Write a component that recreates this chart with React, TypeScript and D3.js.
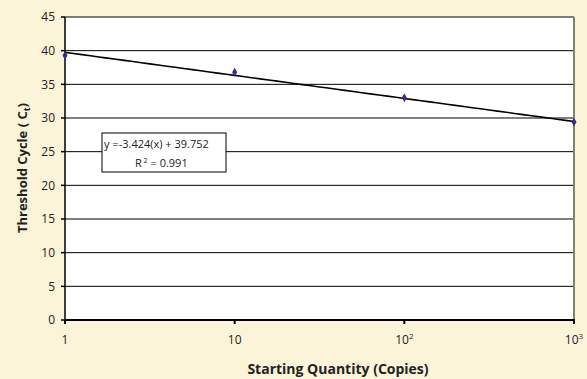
import React from "react";
import * as d3 from "d3";

const quantities = [1, 10, 100, 1000];
const thresholdCycles = [39.3, 36.8, 33.0, 29.4];
const slope = -3.424;
const intercept = 39.752;
const rSquared = 0.991;
const yTicks = [0, 5, 10, 15, 20, 25, 30, 35, 40, 45];
const xTickValues = [1, 10, 100, 1000];
const xTickBases = ["1", "10", "10", "10"];
const xTickExps = ["", "", "2", "3"];

const W = 587;
const H = 379;
const left = 65;
const right = 574;
const top = 17;
const bottom = 320;
const font = "'Open Sans', 'Noto Sans', sans-serif";

export default function App() {
  const x = d3.scaleLog().domain([1, 1000]).range([left, right]);
  const y = d3.scaleLinear().domain([0, 45]).range([bottom, top]);
  const trend = d3
    .line<number>()
    .x((d) => x(d))
    .y((d) => y(slope * Math.log10(d) + intercept));
  const diamond = d3.symbol().type(d3.symbolDiamond).size(22)();

  return (
    <svg
      width={W}
      height={H}
      style={{ position: "absolute", left: 0, top: 0 }}
      fontFamily={font}
    >
      <rect x={0} y={0} width={W} height={H} fill="#FCF4D8" />
      <rect x={left} y={top} width={right - left} height={bottom - top} fill="#ffffff" />
      {yTicks.map((t) => (
        <g key={t}>
          {t > 0 && (
            <line x1={left} x2={right} y1={y(t)} y2={y(t)} stroke="#000" strokeWidth={1} />
          )}
          <line x1={left - 4} x2={left} y1={y(t)} y2={y(t)} stroke="#000" strokeWidth={1.5} />
          <text
            x={left - 10}
            y={y(t)}
            dy="0.35em"
            textAnchor="end"
            fontSize={12}
            fill="#222"
          >
            {t}
          </text>
        </g>
      ))}
      <line x1={right} x2={right} y1={top} y2={bottom} stroke="#808080" strokeWidth={2} />
      <line x1={left} x2={left} y1={top} y2={bottom + 1} stroke="#000" strokeWidth={1.5} />
      <line x1={left} x2={right + 1} y1={bottom} y2={bottom} stroke="#000" strokeWidth={2} />
      {xTickValues.map((t, i) => (
        <g key={t}>
          <line x1={x(t)} x2={x(t)} y1={bottom} y2={bottom + 4} stroke="#000" strokeWidth={2} />
          <text x={x(t)} y={bottom + 24} textAnchor="middle" fontSize={12} fill="#222">
            {xTickBases[i]}
            {xTickExps[i] && (
              <tspan dy={-5} fontSize={8}>
                {xTickExps[i]}
              </tspan>
            )}
          </text>
        </g>
      ))}
      <path d={trend(d3.range(0, 3.001, 0.05).map((e) => Math.pow(10, e))) || ""} fill="none" stroke="#000" strokeWidth={1.6} />
      {quantities.map((q, i) => (
        <path
          key={q}
          d={diamond || ""}
          transform={`translate(${x(q)},${y(thresholdCycles[i])})`}
          fill="#33308A"
        />
      ))}
      <rect x={102} y={133} width={124} height={39} fill="#fff" stroke="#000" strokeWidth={1} />
      <text x={104} y={148} fontSize={11} fill="#222">
        {`y =${slope}(x) + ${intercept}`}
      </text>
      <text x={135} y={167} fontSize={11} fill="#222">
        R
        <tspan dy={-4} fontSize={7}> 2</tspan>
        <tspan dy={4}>{` = ${rSquared}`}</tspan>
      </text>
      <text
        transform={`translate(27,168) rotate(-90)`}
        textAnchor="middle"
        fontSize={13}
        fontWeight="bold"
        fill="#222"
      >
        Threshold Cycle ( C
        <tspan dy={3} fontSize={9}>t</tspan>
        <tspan dy={-3}>)</tspan>
      </text>
      <text
        x={338}
        y={374}
        textAnchor="middle"
        fontSize={14}
        fontWeight="bold"
        fill="#222"
      >
        Starting Quantity (Copies)
      </text>
    </svg>
  );
}
